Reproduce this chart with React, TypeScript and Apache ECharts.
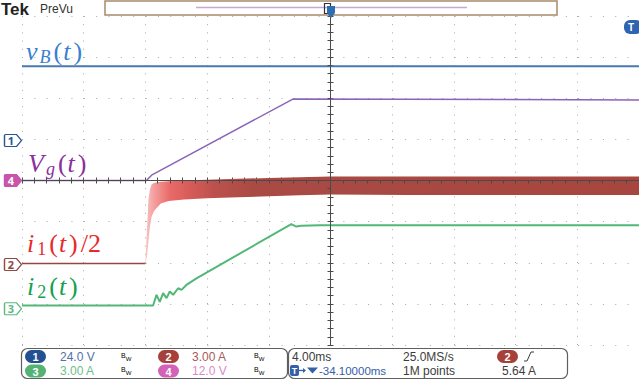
import React, { useEffect, useRef } from 'react';
import * as echarts from 'echarts';

// Time base: 4.00 ms/div, 10 divisions, trigger at the centre (t = 0)
const timeMin = -20;
const timeMax = 20;
const timeDiv = 4;
// Vertical: 8 divisions, 0 at screen centre, values in divisions
const divMin = -4;
const divMax = 4;

// Channel 1: battery voltage v_B(t)
const vBTime = [-20, 20];
const vBLevel = [2.78, 2.78];

// Channel 4: input voltage V_g(t), ramped up
const vgTime = [-20, -11.93, -11.6, -2.44, 20];
const vgLevel = [0, 0, 0.13, 1.98, 1.96];

// Channel 2: i_1(t)/2 before switching starts
const i1Time = [-20, -12.0];
const i1Level = [-2.02, -2.02];

// Channel 2: switching ripple envelope of i_1(t)/2
const i1BandTime = [-12.0, -11.9, -11.8, -11.7, -11.6, -11.45, -11.3, -11.0, -10.5, -9.5, -8, -6, -4, -2, 0, 5, 10, 15, 20];
const i1BandUpper = [-2.02, -1.2, -0.45, -0.2, -0.1, -0.06, -0.05, -0.03, -0.02, 0, 0.02, 0.04, 0.06, 0.08, 0.1, 0.1, 0.1, 0.1, 0.1];
const i1BandLower = [-2.02, -1.85, -1.45, -1.1, -0.88, -0.75, -0.68, -0.56, -0.5, -0.46, -0.43, -0.41, -0.38, -0.36, -0.34, -0.35, -0.35, -0.35, -0.35];

// Channel 3: i_2(t) with start-up ringing
const i2Time = [-20, -11.5, -11.28, -11.07, -10.85, -10.63, -10.42, -10.2, -9.88, -9.66, -9.34, -8.69, -2.54, -2.22, -1.9, -0.71, 20];
const i2Level = [-3.04, -3.04, -2.78, -2.95, -2.74, -2.86, -2.7, -2.78, -2.62, -2.66, -2.54, -2.38, -1.06, -1.12, -1.1, -1.09, -1.09];

// Ground reference markers on the left edge
const markerChannels = ['1', '4', '2', '3'];
const markerLevels = [0.97, 0, -2.04, -3.12];

const zip = (xs: number[], ys: number[]) => xs.map((x, k) => [x, ys[k]]);

const serifFamily = '"Liberation Serif", "DejaVu Serif", serif';
const sansFamily = '"Noto Sans", "DejaVu Sans", sans-serif';
const panelFamily = '"Liberation Sans", Arial, sans-serif';

function mathRich(color: string) {
  const base = { fontFamily: serifFamily, fontSize: 26, lineHeight: 30, color };
  return {
    i: { ...base, fontStyle: 'italic', verticalAlign: 'middle', padding: [0, 2, 0, 0] },
    n: { ...base, fontStyle: 'normal', verticalAlign: 'middle', padding: [0, 1, 0, 1] },
    s: { ...base, fontSize: 18, fontStyle: 'italic', verticalAlign: 'bottom', padding: [0, 2, 0, 0] },
    d: { ...base, fontSize: 18, fontStyle: 'normal', verticalAlign: 'bottom', padding: [0, 2, 0, 1] },
    q: { ...base, fontStyle: 'normal', verticalAlign: 'middle', padding: [0, 2, 0, 2] },
  };
}

function mathLabel(x: number, y: number, text: string, color: string) {
  return {
    type: 'text',
    x,
    y,
    z: 20,
    style: {
      text,
      rich: mathRich(color),
      fill: color,
      align: 'left',
      textAlign: 'left',
      verticalAlign: 'middle',
      textVerticalAlign: 'middle',
    },
  };
}

function plainText(x: number, y: number, text: string, color: string, size = 12, extra: any = {}) {
  return {
    type: 'text',
    x,
    y,
    z: 22,
    style: {
      text,
      fill: color,
      fontFamily: panelFamily,
      fontSize: size,
      lineHeight: 13,
      align: 'left',
      textAlign: 'left',
      verticalAlign: 'middle',
      textVerticalAlign: 'middle',
      ...extra,
    },
  };
}

function badge(x: number, y: number, label: string, color: string) {
  return {
    type: 'group',
    x,
    y,
    children: [
      { type: 'rect', z: 22, shape: { x: 0, y: -6.5, width: 21, height: 13, r: 6.5 }, style: { fill: color } },
      {
        type: 'text',
        z: 23,
        x: 10.5,
        y: 0.5,
        style: {
          text: label,
          fill: '#ffffff',
          fontFamily: panelFamily,
          fontSize: 11,
          lineHeight: 12,
          fontWeight: 'bold',
          align: 'center',
          textAlign: 'center',
          verticalAlign: 'middle',
          textVerticalAlign: 'middle',
        },
      },
    ],
  };
}

// small bandwidth-limit glyph: "B" raised, "W" lowered
function bwIcon(x: number, y: number, color: string) {
  return {
    type: 'text',
    x,
    y,
    z: 22,
    style: {
      text: '{b|B}{w|W}',
      rich: {
        b: { fontFamily: panelFamily, fontSize: 7, color, verticalAlign: 'top', lineHeight: 10 },
        w: { fontFamily: panelFamily, fontSize: 6, color, verticalAlign: 'bottom', lineHeight: 10 },
      },
      align: 'left',
      textAlign: 'left',
      verticalAlign: 'middle',
      textVerticalAlign: 'middle',
    },
  };
}

const markerStyles: Record<string, { fill: string; stroke: string; text: string }> = {
  '1': { fill: '#ffffff', stroke: '#2b5592', text: '#2b5592' },
  '4': { fill: '#c955ab', stroke: '#c955ab', text: '#ffffff' },
  '2': { fill: '#ffffff', stroke: '#8e4b44', text: '#8e4b44' },
  '3': { fill: '#ffffff', stroke: '#5cb97e', text: '#5cb97e' },
};

const markerPath = 'path://M1,0 L12,0 L17,6 L12,12 L1,12 Q0,12 0,11 L0,1 Q0,0 1,0 Z';

export default function App() {
  const ref = useRef<HTMLDivElement>(null);

  useEffect(() => {
    if (!ref.current) return;
    const chart = echarts.init(ref.current, null, { renderer: 'svg' });

    const gridDots = '#a9a9a9';
    const centreLine = '#4a4a4a';

    const centreAxisCommon = {
      type: 'value',
      axisLabel: { show: false },
      axisLine: { show: true, onZero: true, lineStyle: { color: centreLine, width: 1 } },
      axisTick: { show: true, inside: true, length: 3, lineStyle: { color: centreLine } },
      minorTick: { show: true, splitNumber: 5, length: 3, lineStyle: { color: centreLine } },
    };

    const bandGradient = new echarts.graphic.LinearGradient(0, 0, 1, 0, [
      { offset: 0, color: '#f8c4c4' },
      { offset: 0.02, color: '#f39a9a' },
      { offset: 0.05, color: '#e96a68' },
      { offset: 0.09, color: '#d65c58' },
      { offset: 0.14, color: '#bc514c' },
      { offset: 0.22, color: '#aa4a44' },
      { offset: 1, color: '#a6463f' },
    ]);

    // ripple band of i_1: polygon along the upper envelope and back along the lower one
    const renderBand = (params: any, api: any) => {
      const upperPts = i1BandTime.map((t, k) => api.coord([t, i1BandUpper[k]]));
      const lowerPts = i1BandTime.map((t, k) => api.coord([t, i1BandLower[k]])).reverse();
      return {
        type: 'polygon',
        shape: { points: upperPts.concat(lowerPts) },
        style: { fill: bandGradient, stroke: 'none' },
      };
    };

    const option: any = {
      animation: false,
      backgroundColor: '#ffffff',
      grid: { left: 22, top: 16, width: 618, height: 329, containLabel: false },
      xAxis: [
        {
          ...centreAxisCommon,
          min: timeMin,
          max: timeMax,
          interval: timeDiv,
          position: 'bottom',
          splitLine: { show: true, lineStyle: { color: gridDots, type: [1, 7.2], width: 1 } },
        },
        {
          ...centreAxisCommon,
          min: timeMin,
          max: timeMax,
          interval: timeDiv,
          position: 'top',
          z: 8,
          splitLine: { show: false },
        },
      ],
      yAxis: [
        {
          ...centreAxisCommon,
          min: divMin,
          max: divMax,
          interval: 1,
          position: 'left',
          splitLine: { show: true, lineStyle: { color: gridDots, type: [1, 11.36], width: 1 } },
        },
        {
          ...centreAxisCommon,
          min: divMin,
          max: divMax,
          interval: 1,
          position: 'right',
          z: 8,
          splitLine: { show: false },
        },
      ],
      series: [
        {
          name: 'i1 ripple',
          type: 'custom',
          renderItem: renderBand,
          data: [[i1BandTime[0], i1BandUpper[0]]],
          clip: true,
          silent: true,
          z: 3,
        },
        {
          name: 'vB',
          type: 'line',
          data: zip(vBTime, vBLevel),
          symbol: 'none',
          lineStyle: { color: '#4a78b0', width: 2 },
          z: 5,
        },
        {
          name: 'Vg',
          type: 'line',
          data: zip(vgTime, vgLevel),
          symbol: 'none',
          lineStyle: { color: '#8c63b8', width: 1.5 },
          z: 5,
        },
        {
          name: 'i1 base',
          type: 'line',
          data: zip(i1Time, i1Level),
          symbol: 'none',
          lineStyle: { color: '#964640', width: 1.5 },
          z: 4,
        },
        {
          name: 'i2',
          type: 'line',
          data: zip(i2Time, i2Level),
          symbol: 'none',
          lineStyle: { color: '#52b877', width: 2 },
          z: 5,
        },
        {
          name: 'ground refs',
          type: 'scatter',
          clip: false,
          silent: true,
          z: 10,
          data: markerLevels.map((lv, k) => {
            const st = markerStyles[markerChannels[k]];
            return {
              value: [timeMin, lv],
              itemStyle: { color: st.fill, borderColor: st.stroke, borderWidth: 1.2, opacity: 1 },
              label: {
                show: true,
                position: 'inside',
                formatter: markerChannels[k],
                color: st.text,
                fontFamily: sansFamily,
                fontSize: 11,
                fontWeight: 'bold',
                offset: [-2, 0],
              },
            };
          }),
          symbol: markerPath,
          symbolSize: [17, 12],
          symbolOffset: [-9, 0],
        },
      ],
      graphic: [
        // header
        { type: 'text', x: 1, y: 9, z: 20, style: { text: 'Tek', fill: '#222222', fontFamily: panelFamily, fontSize: 17, fontWeight: 'bold', verticalAlign: 'middle', textVerticalAlign: 'middle' } },
        plainText(40, 9, 'PreVu', '#333333', 12),
        { type: 'rect', z: 20, shape: { x: 105, y: 1, width: 452, height: 14 }, style: { fill: 'none', stroke: '#a8896b', lineWidth: 1.5 } },
        { type: 'line', z: 20, shape: { x1: 196, y1: 7.5, x2: 467, y2: 7.5 }, style: { stroke: '#c8a6d6', lineWidth: 1.5 } },
        { type: 'rect', z: 21, shape: { x: 324.5, y: 3.5, width: 6, height: 10 }, style: { fill: 'none', stroke: '#333333', lineWidth: 1.2 } },
        { type: 'polygon', z: 21, shape: { points: [[327, 6], [335, 6], [335, 13], [331, 18], [327, 13]] }, style: { fill: '#2f6db5' } },
        // trigger level marker on the right
        { type: 'rect', z: 20, shape: { x: 624, y: 20, width: 18, height: 14, r: 6 }, style: { fill: '#2e64b0' } },
        { type: 'text', x: 631, y: 27.5, z: 21, style: { text: 'T', fill: '#ffffff', fontFamily: panelFamily, fontSize: 10, fontWeight: 'bold', align: 'center', textAlign: 'center', verticalAlign: 'middle', textVerticalAlign: 'middle' } },

        // trace labels
        mathLabel(26, 51, '{i|v}{s|B}{n|(}{i|t}{n|)}', '#3b7fcf'),
        mathLabel(28, 163, '{i|V}{s|g}{n|(}{i|t}{n|)}', '#8b2f9a'),
        mathLabel(27, 243, '{i|i}{d|1}{n|(}{i|t}{n|)}{q|/2}', '#e8292b'),
        mathLabel(27, 286, '{i|i}{d|2}{n|(}{i|t}{n|)}', '#17a04f'),

        // vertical / channel readout panel
        { type: 'rect', z: 19, shape: { x: 21.5, y: 348.5, width: 266, height: 30, r: 6 }, style: { fill: '#ffffff', stroke: '#5f5f5f', lineWidth: 1.2 } },
        badge(25, 356.5, '1', '#234f93'),
        plainText(60, 356.5, '24.0 V', '#5570a8'),
        bwIcon(121, 356.5, '#5570a8'),
        badge(158, 356.5, '2', '#a6413a'),
        plainText(192, 356.5, '3.00 A', '#a85a58'),
        bwIcon(254, 356.5, '#a85a58'),
        badge(25, 371, '3', '#53b374'),
        plainText(60, 371, '3.00 A', '#6cc08a'),
        bwIcon(121, 371, '#6cc08a'),
        badge(158, 371, '4', '#d263b8'),
        plainText(192, 371, '12.0 V', '#d88acb'),
        bwIcon(254, 371, '#d88acb'),

        // horizontal / trigger readout panel
        { type: 'rect', z: 19, shape: { x: 288.5, y: 348.5, width: 279, height: 30, r: 6 }, style: { fill: '#ffffff', stroke: '#5f5f5f', lineWidth: 1.2 } },
        plainText(292, 356.5, '4.00ms', '#3c3c3c'),
        plainText(403, 356.5, '25.0MS/s', '#3c3c3c'),
        badge(497, 356.5, '2', '#a6413a'),
        { type: 'polyline', z: 22, shape: { points: [[524, 361], [527, 361], [531, 352], [534, 352]] }, style: { stroke: '#3c3c3c', lineWidth: 1, fill: 'none' } },
        { type: 'rect', z: 22, shape: { x: 290, y: 365, width: 9, height: 11, r: 2 }, style: { fill: '#3460a8' } },
        { type: 'text', x: 294.5, y: 371, z: 23, style: { text: 'T', fill: '#ffffff', fontFamily: panelFamily, fontSize: 9, lineHeight: 10, fontWeight: 'bold', align: 'center', textAlign: 'center', verticalAlign: 'middle', textVerticalAlign: 'middle' } },
        { type: 'line', z: 22, shape: { x1: 299, y1: 370.5, x2: 305, y2: 370.5 }, style: { stroke: '#3460a8', lineWidth: 1.3 } },
        { type: 'polygon', z: 22, shape: { points: [[303, 368], [306, 370.5], [303, 373]] }, style: { fill: '#3460a8' } },
        { type: 'polygon', z: 22, shape: { points: [[307, 367.5], [318, 367.5], [312.5, 373.5]] }, style: { fill: '#3460a8' } },
        plainText(319, 371, '-34.10000ms', '#3460a8', 11.5),
        plainText(403, 371, '1M points', '#3c3c3c'),
        plainText(502, 371, '5.64 A', '#3c3c3c'),
      ],
    };

    chart.setOption(option);
    return () => {
      chart.dispose();
    };
  }, []);

  return (
    <div
      ref={ref}
      style={{ position: 'absolute', left: 0, top: 0, width: 639, height: 390, background: '#ffffff' }}
    />
  );
}
